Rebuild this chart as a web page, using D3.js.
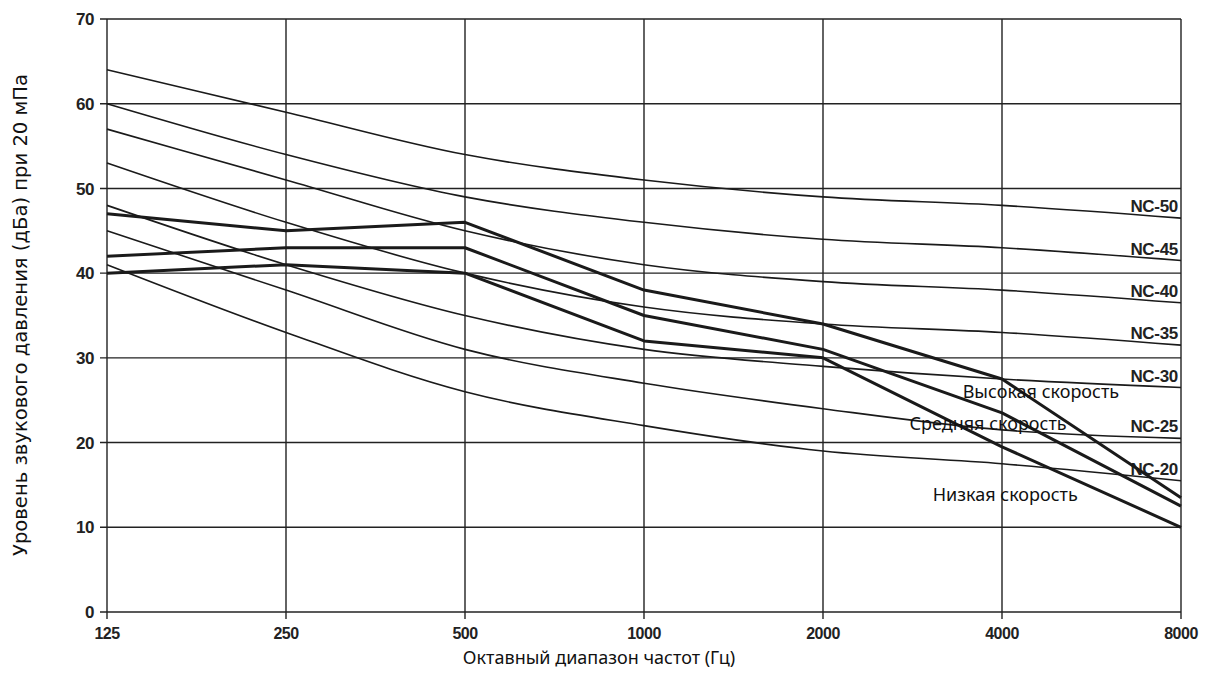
<!DOCTYPE html>
<html>
<head>
<meta charset="utf-8">
<script src="https://cdn.jsdelivr.net/npm/d3@7"></script>
<style>
  body { margin: 0; background: #fff; }
  svg { display: block; }
</style>
</head>
<body>
<div id="chart"></div>
<script>
const width = 1211;
const height = 695;
const margin = { top: 19, right: 30, bottom: 83, left: 107 };

// octave bands
const freqs = [125, 250, 500, 1000, 2000, 4000, 8000];
const yTicks = [0, 10, 20, 30, 40, 50, 60, 70];

// NC curves
const ncNames = ["NC-50", "NC-45", "NC-40", "NC-35", "NC-30", "NC-25", "NC-20"];
const nc50 = [64, 59, 54, 51, 49, 48, 46.5];
const nc45 = [60, 54, 49, 46, 44, 43, 41.5];
const nc40 = [57, 51, 45, 41, 39, 38, 36.5];
const nc35 = [53, 46, 40, 36, 34, 33, 31.5];
const nc30 = [48, 41, 35, 31, 29, 27.5, 26.5];
const nc25 = [45, 38, 31, 27, 24, 21.5, 20.5];
const nc20 = [41, 33, 26, 22, 19, 17.5, 15.5];

// fan speeds
const speedNames = ["Высокая скорость", "Средняя скорость", "Низкая скорость"];
const high = [47, 45, 46, 38, 34, 27.5, 13.5];
const mid = [42, 43, 43, 35, 31, 23.5, 12.5];
const low = [40, 41, 40, 32, 30, 19.5, 10];

const svg = d3.select("#chart")
  .append("svg")
  .attr("width", width)
  .attr("height", height);

const x = d3.scaleLog().base(2)
  .domain([125, 8000])
  .range([margin.left, width - margin.right]);

const y = d3.scaleLinear()
  .domain([0, 70])
  .range([height - margin.bottom, margin.top]);

// grid
svg.append("g")
  .selectAll("line")
  .data(yTicks)
  .join("line")
  .attr("x1", x(125) - 7).attr("x2", x(8000))
  .attr("y1", d => y(d)).attr("y2", d => y(d))
  .attr("stroke", "#222").attr("stroke-width", 1.4);

svg.append("g")
  .selectAll("line")
  .data(freqs)
  .join("line")
  .attr("x1", d => x(d)).attr("x2", d => x(d))
  .attr("y1", y(70)).attr("y2", y(0) + 7)
  .attr("stroke", "#222").attr("stroke-width", 1.4);

// tick labels
svg.append("g")
  .selectAll("text")
  .data(yTicks)
  .join("text")
  .attr("x", x(125) - 13)
  .attr("y", d => y(d))
  .attr("dy", "0.36em")
  .attr("text-anchor", "end")
  .attr("font-family", "Liberation Sans, Arial, sans-serif")
  .attr("font-weight", "bold")
  .attr("font-size", 17)
  .attr("letter-spacing", -0.5)
  .attr("fill", "#222")
  .text(d => d);

svg.append("g")
  .selectAll("text")
  .data(freqs)
  .join("text")
  .attr("x", d => x(d))
  .attr("y", y(0) + 27)
  .attr("text-anchor", "middle")
  .attr("font-family", "Liberation Sans, Arial, sans-serif")
  .attr("font-weight", "bold")
  .attr("font-size", 16)
  .attr("letter-spacing", -0.5)
  .attr("fill", "#222")
  .text(d => d);

// NC curves
const ncSeries = [nc50, nc45, nc40, nc35, nc30, nc25, nc20];
const ncLine = d3.line()
  .x((d, i) => x(freqs[i]))
  .y(d => y(d))
  .curve(d3.curveMonotoneX);

svg.append("g")
  .selectAll("path")
  .data(ncSeries)
  .join("path")
  .attr("fill", "none")
  .attr("stroke", "#1a1a1a")
  .attr("stroke-width", 1.6)
  .attr("d", ncLine);

svg.append("g")
  .selectAll("text")
  .data(ncSeries)
  .join("text")
  .attr("x", x(8000) - 3)
  .attr("y", d => y(d[6]) - 12)
  .attr("dy", "0.36em")
  .attr("text-anchor", "end")
  .attr("font-family", "Liberation Sans, Arial, sans-serif")
  .attr("font-weight", "bold")
  .attr("font-size", 17)
  .attr("letter-spacing", -0.3)
  .attr("fill", "#222")
  .text((d, i) => ncNames[i]);

// speed curves
const speedSeries = [high, mid, low];
const speedLine = d3.line()
  .x((d, i) => x(freqs[i]))
  .y(d => y(d));

svg.append("g")
  .selectAll("path")
  .data(speedSeries)
  .join("path")
  .attr("fill", "none")
  .attr("stroke", "#1a1a1a")
  .attr("stroke-width", 3)
  .attr("stroke-linejoin", "round")
  .attr("d", speedLine);

// speed labels (placed near the 4000 Hz band)
const speedLabelPos = [
  { f: 4650, v: 26 },
  { f: 3790, v: 22.2 },
  { f: 4050, v: 13.9 }
];
svg.append("g")
  .selectAll("text")
  .data(speedNames)
  .join("text")
  .attr("x", (d, i) => x(speedLabelPos[i].f))
  .attr("y", (d, i) => y(speedLabelPos[i].v))
  .attr("dy", "0.36em")
  .attr("text-anchor", "middle")
  .attr("font-family", "Noto Sans, Open Sans, sans-serif")
  .attr("font-size", 18)
  .attr("fill", "#111")
  .text(d => d);

// axis titles
svg.append("text")
  .attr("x", 599)
  .attr("y", 664)
  .attr("text-anchor", "middle")
  .attr("font-family", "Noto Sans, Open Sans, sans-serif")
  .attr("font-size", 18)
  .attr("fill", "#111")
  .text("Октавный диапазон частот (Гц)");

svg.append("text")
  .attr("transform", `translate(27, ${(75 + 555) / 2}) rotate(-90)`)
  .attr("text-anchor", "middle")
  .attr("font-family", "DejaVu Sans Condensed, Liberation Sans Narrow, sans-serif")
  .attr("font-stretch", "condensed")
  .attr("font-size", 20)
  .attr("textLength", 482)
  .attr("lengthAdjust", "spacingAndGlyphs")
  .attr("fill", "#111")
  .text("Уровень звукового давления (дБа) при 20 мПа");
</script>
</body>
</html>
